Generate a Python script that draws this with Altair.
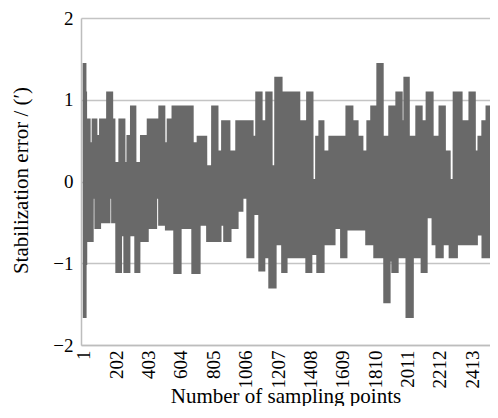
import altair as alt
import numpy as np
import pandas as pd

# Axis ticks
x_ticks = [1, 202, 403, 604, 805, 1006, 1207, 1408, 1609, 1810, 2011, 2212, 2413]
y_grid = [-2, -1.5, -1, -0.5, 0, 0.5, 1, 1.5, 2]

# Upper envelope of the error signal: runs (last sample of run, peak value)
upper_end = [10, 14, 35, 55, 78, 101, 138, 146, 175, 190, 221, 252, 271, 293, 320, 356, 397,
             469, 500, 521, 542, 552, 676, 707, 759, 798, 829, 860, 904, 947, 1047, 1072, 1103,
             1134, 1165, 1190, 1227, 1233, 1338, 1388, 1419, 1444, 1463, 1488, 1525, 1631, 1668,
             1699, 1730, 1762, 1786, 1811, 1824, 1855, 1898, 1942, 1973, 1992, 2017, 2066, 2098,
             2129, 2166, 2210, 2241, 2272, 2297, 2346, 2396, 2427, 2452, 2476, 2501, 2570]
upper_val = [1.45, 1.1, 0.77, 0.48, 0.77, 0.57, 0.77, 0.4, 1.1, 0.77, 0.24, 0.77, 0.24, 0.57, 0.93,
             0.24, 0.57, 0.77, 0.93, 0.48, 0.77, 0.3, 0.93, 0.48, 0.56, 0.2, 0.93, 0.38, 0.75, 0.38,
             0.75, 0.56, 1.1, 0.75, 1.1, 0.2, 1.28, 0.75, 1.1, 0.75, 1.1, 0.03, 0.56, 0.75, 0.38,
             0.56, 0.93, 0.75, 0.56, 0.38, 0.75, 0.93, 0.75, 1.45, 0.56, 0.93, 1.1, 0.75, 1.28,
             0.56, 0.93, 0.75, 1.1, 0.56, 0.93, 0.38, 0.03, 1.1, 0.75, 1.1, 0.38, 0.56, 0.75, 0.93]

# Lower envelope: runs (last sample of run, trough value)
lower_end = [10, 14, 55, 72, 101, 159, 177, 202, 231, 252, 283, 320, 345, 397, 449, 469, 511, 562,
             600, 674, 718, 767, 848, 873, 910, 954, 985, 1016, 1053, 1090, 1121, 1152, 1190, 1233,
             1258, 1382, 1413, 1450, 1488, 1556, 1599, 1631, 1755, 1805, 1867, 1898, 1917, 1948,
             2004, 2042, 2098, 2129, 2166, 2191, 2229, 2272, 2316, 2440, 2476, 2532, 2570]
lower_val = [-1.67, -1.02, -0.74, -0.21, -0.58, -0.51, -0.21, -0.51, -1.12, -0.67, -1.12, -0.67,
             -1.12, -0.74, -0.58, -0.21, -0.54, -0.6, -1.13, -0.58, -1.13, -0.54, -0.74, -0.54,
             -0.74, -0.58, -0.37, -0.21, -0.94, -0.41, -1.1, -0.94, -1.31, -0.78, -1.12, -0.94,
             -1.12, -0.9, -1.12, -0.78, -0.58, -0.94, -0.6, -0.78, -0.94, -1.49, -0.98, -1.12,
             -0.94, -1.67, -0.94, -1.12, -0.45, -0.78, -0.94, -0.78, -0.94, -0.78, -0.66, -0.94,
             -0.66]

n = np.arange(1, upper_end[-1] + 1)
ui = np.minimum(np.searchsorted(upper_end, n, side="left"), len(upper_val) - 1)
li = np.minimum(np.searchsorted(lower_end, n, side="left"), len(lower_val) - 1)
vals = np.where(n % 2 == 1, np.array(upper_val)[ui], np.array(lower_val)[li])
df = pd.DataFrame({"n": n, "v": vals})

FONT = "Liberation Serif, Times New Roman, serif"

chart = alt.Chart(df).mark_line(
    color="#696969", strokeWidth=2.5, strokeJoin="bevel", clip=True
).encode(
    x=alt.X(
        "n:Q",
        scale=alt.Scale(domain=[-17, 2523], nice=False, zero=False),
        axis=alt.Axis(
            values=x_ticks, format="d", labelAngle=-90, grid=False, ticks=False, labelPadding=5,
            title="Number of sampling points", titleBaseline="alphabetic", titleY=57,
            domainColor="#bdbdbd", domainWidth=1.5,
            labelFont=FONT, labelFontSize=19, labelColor="black",
            titleFont=FONT, titleFontSize=21, titleFontWeight="normal", titleColor="black",
            labelOverlap=False, labelFlush=False,
        ),
    ),
    y=alt.Y(
        "v:Q",
        scale=alt.Scale(domain=[-2, 2], nice=False, zero=False),
        axis=alt.Axis(
            values=y_grid, format="d", labelExpr="datum.value % 1 === 0 ? datum.label : ''",
            grid=True, gridColor="#c4c4c4", gridWidth=1.5, ticks=False, labelPadding=8,
            title="Stabilization error / (\u2032)", titleBaseline="alphabetic",
            titleX=-54, titleY=162, titleAngle=-90,
            domainColor="#bdbdbd", domainWidth=1.5,
            labelFont=FONT, labelFontSize=19, labelColor="black",
            titleFont=FONT, titleFontSize=21, titleFontWeight="normal", titleColor="black",
            labelOverlap=False, labelFlush=False,
        ),
    ),
).properties(
    width=409, height=327,
    autosize=alt.AutoSizeParams(type="none"),
    padding={"left": 73, "top": 10, "right": 0, "bottom": 61},
).configure_view(stroke=None)

chart.save("out.html", embed_options={"renderer": "svg", "actions": False})
